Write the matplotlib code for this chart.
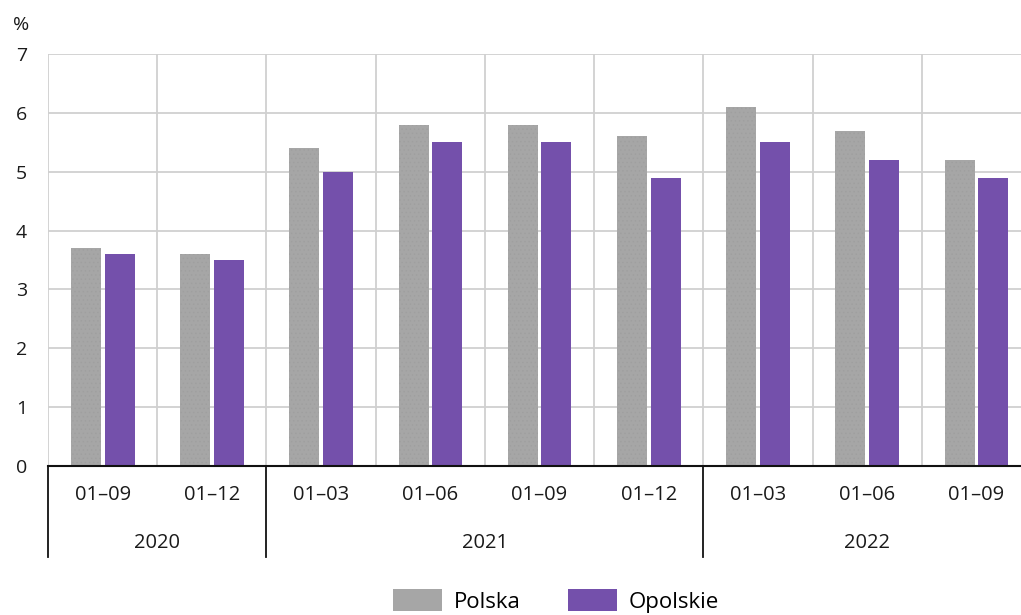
import numpy as np
import matplotlib
matplotlib.use("Agg")
import matplotlib.pyplot as plt
from matplotlib.patches import Patch

# dane
okresy = ["01–09", "01–12", "01–03", "01–06", "01–09", "01–12", "01–03", "01–06", "01–09"]
lata = ["2020", "2021", "2022"]
lata_liczba = [2, 4, 3]
polska = [3.7, 3.6, 5.4, 5.8, 5.8, 5.6, 6.1, 5.7, 5.2]
opolskie = [3.6, 3.5, 5.0, 5.5, 5.5, 4.9, 5.5, 5.2, 4.9]

kolor_pl = "#a6a6a6"
kolor_op = "#7450ab"
kolor_txt = "#1a1a1a"

plt.rcParams["font.family"] = ["Open Sans", "DejaVu Sans"]
plt.rcParams["hatch.color"] = "#9f9f9f"
plt.rcParams["hatch.linewidth"] = 0.5

fig = plt.figure(figsize=(10.21, 6.15), dpi=100)
ax = fig.add_axes([48 / 1021, 1 - 466 / 615, (1031 - 48) / 1021, (466 - 54) / 615])

x = np.arange(len(okresy))
szer = 0.275
ax.bar(x - 0.153, polska, szer, color=kolor_pl, hatch="....", linewidth=0, zorder=3)
ax.bar(x + 0.155, opolskie, szer, color=kolor_op, linewidth=0, zorder=3)

ax.set_xlim(-0.5, len(okresy) - 0.5)
ax.set_ylim(0, 7)
ax.set_yticks(range(8))
ax.set_xticks(np.arange(len(okresy) + 1) - 0.5, minor=True)
ax.set_xticks([])
ax.grid(True, which="both", color="#d0d0d0", linewidth=1.3, zorder=0)
ax.tick_params(axis="y", length=0, pad=15, labelsize=14, colors=kolor_txt)
ax.tick_params(axis="x", which="both", length=0)
for s in ["top", "right", "left"]:
    ax.spines[s].set_visible(False)
ax.spines["bottom"].set_color("#111111")
ax.spines["bottom"].set_linewidth(1.5)
ax.spines["bottom"].set_zorder(4)

fig.text(21 / 1021, 1 - 25 / 615, "%", fontsize=14, color=kolor_txt, ha="center", va="center")

# podpisy osi x
for i, o in enumerate(okresy):
    ax.text(i, -0.5, o, ha="center", va="center", fontsize=14.5, color=kolor_txt, clip_on=False)

start = 0
granice = [0]
for rok, n in zip(lata, lata_liczba):
    ax.text(start + n / 2 - 0.5, -1.3, rok, ha="center", va="center", fontsize=14.5,
            color=kolor_txt, clip_on=False)
    start += n
    granice.append(start)
for g in granice:
    ax.plot([g - 0.5, g - 0.5], [0, -1.55], color="#111111", linewidth=1.3, clip_on=False)

uchwyty = [Patch(facecolor=kolor_pl, label="Polska"), Patch(facecolor=kolor_op, label="Opolskie")]
fig.legend(handles=uchwyty, loc="center", bbox_to_anchor=(556 / 1021, 1 - 601 / 615),
           ncol=2, frameon=False, fontsize=16, handlelength=2.2, handleheight=1.1,
           handletextpad=0.55, columnspacing=2.1, borderaxespad=0)

fig.savefig("out.png", dpi=100)
